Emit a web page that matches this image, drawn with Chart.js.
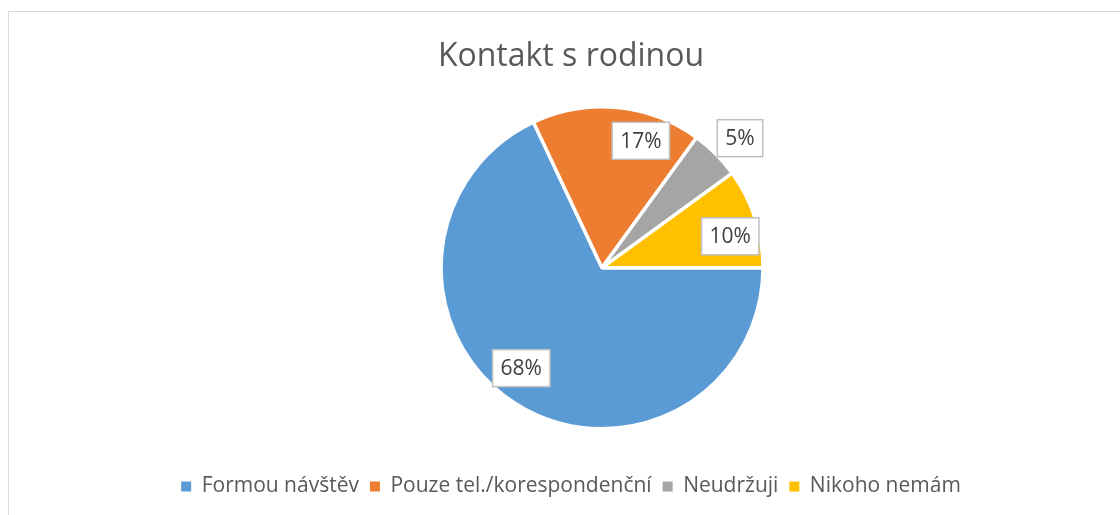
<!DOCTYPE html>
<html>
<head>
<meta charset="utf-8">
<script src="https://cdn.jsdelivr.net/npm/chart.js@4/dist/chart.umd.min.js"></script>
<style>
  html, body { margin: 0; padding: 0; background: #fff; overflow: hidden; width: 1120px; height: 515px; }
  #frame { position: absolute; left: 8px; top: 11px; width: 1125px; height: 504px;
           border-left: 1px solid #d9d9d9; border-top: 1px solid #d9d9d9; background: #fff; }
  #wrap { position: absolute; left: 0; top: 0; width: 1124px; height: 503px; }
</style>
</head>
<body>
<div id="frame"><div id="wrap"><canvas id="c"></canvas></div></div>
<script>
const titleText = 'Kontakt s rodinou';
const categories = ['Formou návštěv', 'Pouze tel./korespondenční', 'Neudržuji', 'Nikoho nemám'];
const shares = [68, 17, 5, 10];
const valueLabels = ['68%', '17%', '5%', '10%'];
const sliceColors = ['#5B9BD5', '#ED7D31', '#A5A5A5', '#FFC000'];
// label placement: angle offset (deg) from slice middle, radial fraction of outer radius
const labelAngleOffset = [6.4, 11.6, 1.8, 4.2];
const labelRadiusFrac = [0.80, 0.825, 1.176, 0.82];

const FONT = "'Open Sans', sans-serif";

// spacer on the left so that the pie sits right of the title/legend centre
const leftSpacer = {
  id: 'leftSpacer',
  beforeInit(chart) {
    const box = {
      position: 'left', weight: 0, fullSize: false,
      options: { stackWeight: 1 },
      left: 0, top: 0, right: 0, bottom: 0, width: 0, height: 0,
      isHorizontal() { return false; },
      update(maxWidth, maxHeight) { this.width = 62; this.height = maxHeight; },
      getPadding() { return { top: 0, left: 0, right: 0, bottom: 0 }; },
      draw() {}
    };
    Chart.layouts.addBox(chart, box);
  }
};

const boxLabels = {
  id: 'boxLabels',
  afterDatasetsDraw(chart) {
    const ctx = chart.ctx;
    const meta = chart.getDatasetMeta(0);
    ctx.save();
    ctx.font = '21px ' + FONT;
    ctx.textAlign = 'center';
    ctx.textBaseline = 'middle';
    meta.data.forEach((arc, i) => {
      const p = arc.getProps(['x', 'y', 'startAngle', 'endAngle', 'outerRadius'], true);
      const mid = (p.startAngle + p.endAngle) / 2 + labelAngleOffset[i] * Math.PI / 180;
      const r = p.outerRadius * labelRadiusFrac[i];
      const cx = p.x + Math.cos(mid) * r;
      const cy = p.y + Math.sin(mid) * r;
      const txt = valueLabels[i];
      const w = ctx.measureText(txt).width + 16;
      const h = 37;
      ctx.fillStyle = '#ffffff';
      ctx.fillRect(cx - w / 2, cy - h / 2, w, h);
      ctx.strokeStyle = '#bfbfbf';
      ctx.lineWidth = 1.5;
      ctx.strokeRect(cx - w / 2, cy - h / 2, w, h);
      ctx.fillStyle = '#404040';
      ctx.fillText(txt, cx, cy + 1);
    });
    ctx.restore();
  }
};

new Chart(document.getElementById('c'), {
  type: 'pie',
  data: {
    labels: categories,
    datasets: [{
      data: shares,
      backgroundColor: sliceColors,
      borderColor: '#ffffff',
      borderWidth: 3.5
    }]
  },
  options: {
    responsive: true,
    maintainAspectRatio: false,
    animation: false,
    rotation: 90,
    radius: 161,
    layout: { padding: { left: 0, right: 0, top: 0, bottom: 8 } },
    plugins: {
      tooltip: { enabled: false },
      title: {
        display: true,
        text: titleText,
        color: '#595959',
        font: { family: FONT, size: 32, weight: 'normal', lineHeight: 0.8 },
        padding: { top: 32, bottom: 1 }
      },
      legend: {
        position: 'bottom',
        labels: {
          color: '#595959',
          font: { family: FONT, size: 21 },
          boxWidth: 10,
          boxHeight: 10,
          padding: 11,
          generateLabels(chart) {
            const items = Chart.overrides.pie.plugins.legend.labels.generateLabels(chart);
            items.forEach(it => { it.lineWidth = 0; it.strokeStyle = 'transparent'; });
            return items;
          }
        }
      }
    }
  },
  plugins: [leftSpacer, boxLabels]
});
</script>
</body>
</html>
